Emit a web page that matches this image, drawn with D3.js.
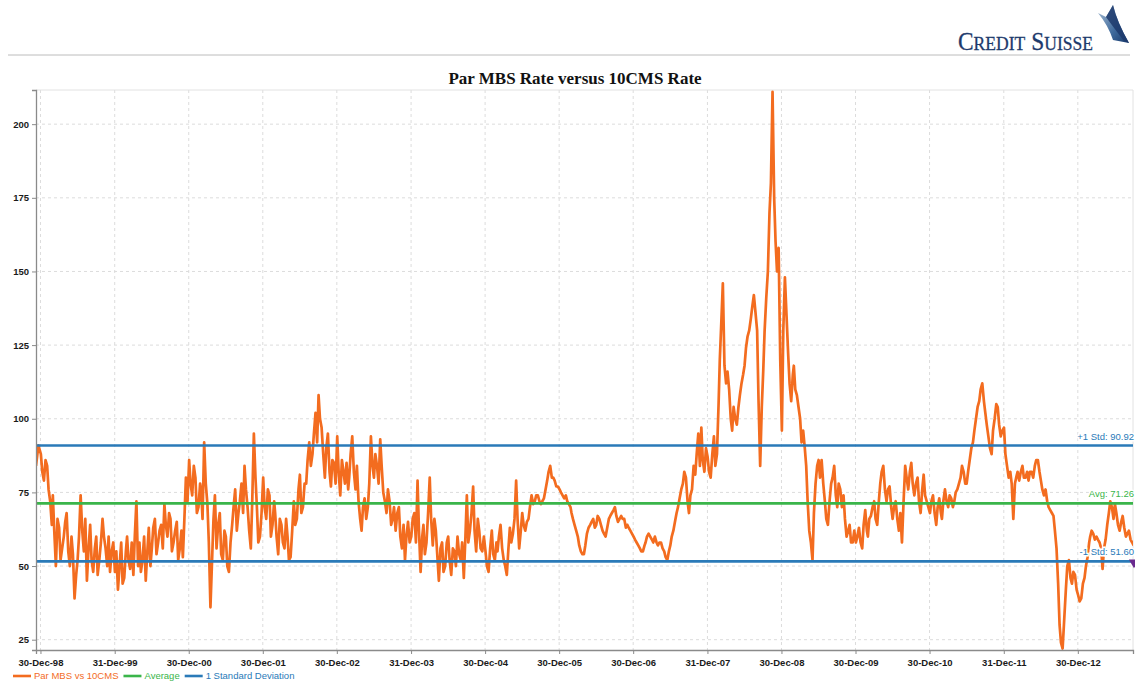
<!DOCTYPE html>
<html>
<head>
<meta charset="utf-8">
<script src="https://cdn.jsdelivr.net/npm/d3@7"></script>
<style>
body { margin: 0; background: #fff; }
</style>
</head>
<body>
<div id="chart"></div>
<script>
let dec1998 = [84, 91];
let y1999 = [88, 79, 84, 72, 74, 50, 63, 56, 65, 55, 60, 39, 52, 74, 55, 45, 64, 48, 60, 52, 66, 56, 60, 55];
let y2000 = [48, 42, 58, 46, 60, 49, 47, 72, 58, 52, 45, 63, 56, 66, 58, 64, 71, 60, 66, 58, 65, 56, 53, 80];
let y2001 = [86, 74, 80, 70, 76, 92, 71, 36, 66, 56, 68, 52, 60, 48, 64, 76, 68, 78, 84, 70, 56, 95, 70, 60];
let y2002 = [80, 66, 74, 64, 68, 54, 64, 56, 60, 53, 72, 66, 81, 70, 78, 92, 88, 102, 108, 97, 80, 95, 77, 85];
let y2003 = [94, 74, 82, 85, 80, 94, 76, 72, 62, 73, 70, 94, 80, 84, 93, 75, 68, 72, 66, 62, 70, 56, 52, 65];
let y2004 = [60, 68, 79, 48, 64, 58, 80, 57, 62, 45, 58, 50, 60, 47, 55, 60, 52, 46, 74, 62, 77, 55, 62, 55];
let y2005 = [55, 48, 62, 52, 55, 64, 52, 47, 63, 61, 79, 56, 68, 62, 66, 74, 72, 74, 71, 73, 79, 84, 80, 77];
let y2006 = [76, 74, 74, 71, 68, 64, 60, 55, 54, 61, 64, 66, 64, 66, 62, 60, 66, 68, 70, 65, 67, 66, 64, 62];
let y2007 = [60, 58, 56, 55, 58, 61, 59, 60, 57, 58, 55, 52, 57, 62, 68, 73, 78, 80, 68, 76, 81, 95, 97, 82];
let y2008 = [87, 80, 94, 88, 120, 146, 112, 110, 96, 100, 104, 112, 118, 128, 134, 142, 130, 84, 116, 141, 170, 211, 160, 158];
let y2009 = [96, 148, 122, 106, 118, 108, 100, 96, 84, 62, 52, 78, 86, 86, 72, 64, 78, 84, 70, 76, 74, 60, 64, 58];
let y2010 = [58, 63, 56, 69, 60, 67, 72, 64, 78, 84, 72, 77, 66, 72, 62, 58, 84, 76, 85, 74, 80, 68, 81, 72];
let y2011 = [68, 74, 64, 73, 66, 76, 70, 73, 72, 76, 80, 82, 78, 86, 92, 100, 106, 112, 102, 94, 88, 100, 104, 94];
let y2012 = [97, 84, 82, 66, 80, 79, 84, 80, 79, 82, 84, 86, 79, 74, 72, 69, 67, 56, 30, 22, 42, 52, 44, 47];
let y2013 = [40, 39, 46, 53, 60, 61, 60, 58, 49, 59, 68, 70, 71, 64, 65, 63, 61, 59, 57];

// in-between readings (8th and 24th of each month) to catch the day-to-day swings
let m1999 = [82, 86, 76, 64, 62, 66, 52, 60, 68, 50, 54, 47, 60, 62, 66, 56, 52, 56, 47, 58, 60, 50, 48, 58];
let m2000 = [55, 50, 44, 55, 52, 58, 60, 50, 48, 60, 54, 50, 63, 54, 62, 56, 64, 68, 55, 62, 52, 62, 65, 72];
let m2001 = [78, 84, 68, 78, 66, 78, 58, 52, 74, 64, 54, 62, 50, 58, 70, 62, 72, 68, 76, 62, 72, 80, 58, 68];
let m2002 = [70, 76, 60, 72, 60, 66, 58, 66, 52, 62, 64, 76, 68, 78, 86, 84, 95, 92, 100, 88, 90, 82, 86, 78];
let m2003 = [82, 86, 78, 76, 88, 82, 84, 66, 70, 66, 78, 84, 88, 78, 84, 72, 76, 64, 70, 68, 60, 64, 60, 58];
let m2004 = [66, 58, 62, 60, 54, 68, 66, 66, 54, 56, 48, 58, 52, 56, 50, 54, 58, 60, 58, 68, 62, 66, 56, 60];
let m2005 = [50, 56, 54, 58, 60, 56, 50, 56, 58, 66, 66, 62, 64, 65, 70, 71, 74, 72, 72, 76, 82, 80, 79, 77];
let m2006 = [75, 73, 72, 70, 66, 62, 57, 54, 57, 63, 65, 63, 67, 64, 61, 63, 67, 69, 67, 66, 66, 63, 63, 61];
let m2007 = [59, 57, 55, 57, 60, 60, 58, 58, 58, 56, 53, 55, 60, 65, 70, 76, 82, 72, 74, 84, 88, 84, 86, 90];
let m2008 = [82, 88, 84, 105, 132, 118, 116, 100, 104, 98, 108, 115, 124, 130, 138, 136, 106, 104, 130, 150, 180, 175, 150, 120];
let m2009 = [130, 135, 112, 115, 110, 104, 92, 90, 72, 58, 68, 84, 80, 78, 66, 72, 80, 74, 78, 70, 66, 62, 58, 62];
let m2010 = [60, 58, 64, 62, 66, 70, 66, 72, 82, 76, 76, 70, 70, 66, 68, 72, 80, 82, 78, 78, 72, 76, 74, 70];
let m2011 = [72, 68, 70, 68, 72, 72, 74, 70, 75, 78, 84, 78, 82, 90, 96, 104, 110, 106, 98, 90, 96, 105, 98, 96];
let m2012 = [88, 80, 78, 78, 82, 82, 80, 82, 82, 80, 86, 82, 76, 76, 70, 68, 62, 44, 24, 32, 50, 46, 48, 42];
let m2013 = [38, 44, 50, 58, 62, 59, 59, 56, 56, 64, 72, 66, 68, 62, 67, 60, 62, 58];

let yTicks = [25, 50, 75, 100, 125, 150, 175, 200];
let xTickLabels = ["30-Dec-98", "31-Dec-99", "30-Dec-00", "30-Dec-01", "30-Dec-02", "31-Dec-03", "30-Dec-04",
    "30-Dec-05", "30-Dec-06", "31-Dec-07", "30-Dec-08", "30-Dec-09", "30-Dec-10", "31-Dec-11", "30-Dec-12"];

let avgLevel = 71.26;
let plusStd = 90.92;
let minusStd = 51.60;
let legendNames = ["Par MBS vs 10CMS", "Average", "1 Standard Deviation"];

let orange = "#f36c1f", green = "#3ab54a", blue = "#2a7ab8";

let series = [
    {date: new Date(1998, 11, 8), v: dec1998[0]},
    {date: new Date(1998, 11, 20), v: dec1998[1]}
];
let years = [[1999, y1999, m1999], [2000, y2000, m2000], [2001, y2001, m2001], [2002, y2002, m2002],
    [2003, y2003, m2003], [2004, y2004, m2004], [2005, y2005, m2005], [2006, y2006, m2006],
    [2007, y2007, m2007], [2008, y2008, m2008], [2009, y2009, m2009], [2010, y2010, m2010],
    [2011, y2011, m2011], [2012, y2012, m2012], [2013, y2013, m2013]];
years.forEach(function(yr){
    yr[1].forEach(function(v, i){
        series.push({date: new Date(yr[0], Math.floor(i / 2), i % 2 ? 16 : 1), v: v});
    });
    yr[2].forEach(function(v, i){
        series.push({date: new Date(yr[0], Math.floor(i / 2), i % 2 ? 24 : 8), v: v});
    });
});
series.sort(function(a, b){ return a.date - b.date; });

let W = 1135, H = 682;
let plotL = 36, plotR = 1133, plotT = 90, plotB = 650;

let svg = d3.select("#chart").append("svg")
    .attr("width", W)
    .attr("height", H)
    .style("font-family", "'Liberation Sans', Arial, sans-serif");

// header: logo and rule
let logoParts = [["C", 26], ["REDIT", 19.5], ["S", 26], ["UISSE", 19.5]];
let lgx = 958;
logoParts.forEach(function(p, i){
    let t = svg.append("text")
        .attr("x", lgx)
        .attr("y", 50)
        .attr("fill", "#1d3a6c")
        .attr("stroke", "#1d3a6c")
        .attr("stroke-width", 0.3)
        .attr("font-family", "'Liberation Serif', 'Times New Roman', serif")
        .attr("font-size", p[1])
        .attr("transform", "translate(" + lgx + ",0) scale(0.9,1) translate(" + (-lgx) + ",0)")
        .text(p[0]);
    lgx = lgx + t.node().getComputedTextLength() * 0.9 + (i == 1 ? 6 : 0);
});

let grad = svg.append("defs").append("linearGradient")
    .attr("id", "sail").attr("x1", 0).attr("y1", 0).attr("x2", 1).attr("y2", 1);
grad.append("stop").attr("offset", "0%").attr("stop-color", "#a9bfd6");
grad.append("stop").attr("offset", "60%").attr("stop-color", "#3f6a9c");
grad.append("stop").attr("offset", "100%").attr("stop-color", "#17386a");

svg.append("path")
    .attr("d", "M1098,13 L1106,17 L1113,5 Q1117,22 1129,43 L1113,40 Q1108,25 1098,13 Z")
    .attr("fill", "url(#sail)");
svg.append("path")
    .attr("d", "M1106,17 Q1114,28 1124,41 L1129,43 Q1117,22 1113,5 Z")
    .attr("fill", "#1d3a6c")
    .attr("opacity", 0.85);

svg.append("line")
    .attr("x1", 8).attr("x2", 1130)
    .attr("y1", 55).attr("y2", 55)
    .attr("stroke", "#bcbcbc")
    .attr("stroke-width", 1);

// title
svg.append("text")
    .attr("x", 575)
    .attr("y", 84)
    .attr("text-anchor", "middle")
    .attr("font-family", "'Liberation Serif', 'Times New Roman', serif")
    .attr("font-weight", "bold")
    .attr("font-size", 17)
    .attr("fill", "#111")
    .text("Par MBS Rate versus 10CMS Rate");

let parseTick = d3.timeParse("%d-%b-%y");
let tickDates = xTickLabels.map(parseTick);

let x = d3.scaleTime()
    .domain([new Date(1998, 11, 8), new Date(2013, 8, 28)])
    .range([plotL, plotR]);
let y = d3.scaleLinear()
    .domain([21.5, 211.6])
    .range([plotB, plotT]);

// grid
svg.append("g").selectAll("line").data(yTicks).enter().append("line")
    .attr("x1", plotL).attr("x2", plotR)
    .attr("y1", function(d){ return y(d); })
    .attr("y2", function(d){ return y(d); })
    .attr("stroke", "#dcdcdc")
    .attr("stroke-dasharray", "3,3");
svg.append("g").selectAll("line").data(tickDates).enter().append("line")
    .attr("x1", function(d){ return x(d); })
    .attr("x2", function(d){ return x(d); })
    .attr("y1", plotT).attr("y2", plotB)
    .attr("stroke", "#dcdcdc")
    .attr("stroke-dasharray", "3,3");

// frame top / right
svg.append("line").attr("x1", plotL).attr("x2", plotR).attr("y1", plotT).attr("y2", plotT)
    .attr("stroke", "#e2e2e2");
svg.append("line").attr("x1", plotR).attr("x2", plotR).attr("y1", plotT).attr("y2", plotB)
    .attr("stroke", "#e2e2e2");

svg.append("clipPath").attr("id", "plot")
    .append("rect")
    .attr("x", plotL).attr("y", plotT)
    .attr("width", plotR - plotL).attr("height", plotB - plotT);

let plot = svg.append("g").attr("clip-path", "url(#plot)");

let line = d3.line()
    .x(function(d){ return x(d.date); })
    .y(function(d){ return y(d.v); });

plot.append("path")
    .datum(series)
    .attr("d", line)
    .attr("fill", "none")
    .attr("stroke", orange)
    .attr("stroke-width", 2.7)
    .attr("stroke-linejoin", "round");

let refs = [
    {v: plusStd, color: blue, label: "+1 Std: " + plusStd.toFixed(2)},
    {v: avgLevel, color: green, label: "Avg: " + avgLevel.toFixed(2)},
    {v: minusStd, color: blue, label: "-1 Std: " + minusStd.toFixed(2)}
];

plot.selectAll(".ref").data(refs).enter().append("line")
    .attr("class", "ref")
    .attr("x1", plotL).attr("x2", plotR)
    .attr("y1", function(d){ return y(d.v); })
    .attr("y2", function(d){ return y(d.v); })
    .attr("stroke", function(d){ return d.color; })
    .attr("stroke-width", 2.6);

svg.selectAll(".refLabel").data(refs).enter().append("text")
    .attr("class", "refLabel")
    .attr("x", 1134)
    .attr("y", function(d){ return y(d.v) - 6; })
    .attr("text-anchor", "end")
    .attr("font-size", 9.5)
    .attr("fill", function(d){ return d.color; })
    .attr("stroke", "#fff")
    .attr("stroke-width", 3)
    .attr("paint-order", "stroke")
    .text(function(d){ return d.label; });

// end marker on the lower band
svg.append("path")
    .attr("d", d3.symbol().type(d3.symbolTriangle).size(45))
    .attr("transform", "translate(1134," + (y(minusStd) + 1) + ") rotate(180)")
    .attr("fill", "#6a2a8e");

// axes
let yAxis = svg.append("g")
    .attr("transform", "translate(" + plotL + ",0)")
    .call(d3.axisLeft(y).tickValues(yTicks).tickSize(4).tickPadding(3));
let xAxis = svg.append("g")
    .attr("transform", "translate(0," + plotB + ")")
    .call(d3.axisBottom(x).tickValues(tickDates).tickSize(4).tickPadding(5)
        .tickFormat(function(d, i){ return xTickLabels[i]; }));

[yAxis, xAxis].forEach(function(a){
    a.select(".domain").attr("stroke", "#8a8a8a").attr("stroke-width", 1.3);
    a.selectAll(".tick line").attr("stroke", "#8a8a8a");
    a.selectAll(".tick text")
        .attr("fill", "#1a1a1a")
        .attr("font-size", 9.5)
        .attr("font-weight", "bold")
        .attr("font-family", "'Liberation Sans', Arial, sans-serif");
});

// legend
let legendColors = [orange, green, blue];
let lx = 13;
let legend = svg.append("g");
legendNames.forEach(function(name, i){
    legend.append("line")
        .attr("x1", lx).attr("x2", lx + 18)
        .attr("y1", 676).attr("y2", 676)
        .attr("stroke", legendColors[i])
        .attr("stroke-width", 2.6);
    let t = legend.append("text")
        .attr("x", lx + 21)
        .attr("y", 679)
        .attr("font-size", 9.5)
        .attr("fill", legendColors[i])
        .text(name);
    lx = lx + 21 + t.node().getComputedTextLength() + 5;
});
</script>
</body>
</html>
